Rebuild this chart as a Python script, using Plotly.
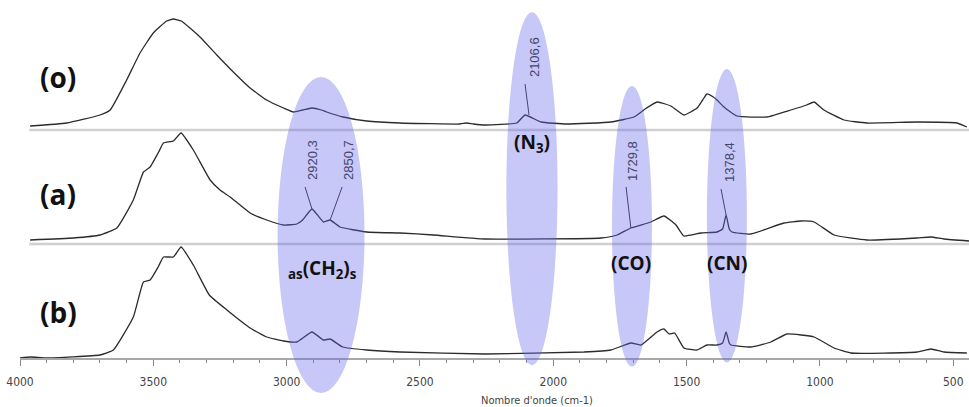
import plotly.graph_objects as go

# ---------------- data (wavenumber in cm-1, absorbance in arbitrary units) ----------------
wn_o = [3962, 3825, 3700, 3662, 3600, 3550, 3500, 3450, 3425, 3395, 3325, 3262, 3200, 3137,
        3075, 3012, 2975, 2940, 2905, 2870, 2850, 2788, 2700, 2575, 2350, 2325, 2300, 2256,
        2137, 2106, 2046, 1950, 1784, 1698, 1650, 1611, 1580, 1559, 1510, 1461, 1440, 1424,
        1400, 1386, 1360, 1311, 1199, 1109, 1050, 1022, 985, 910, 824, 636, 486, 449]
ab_o = [4, 7, 15, 20, 50, 77, 97, 109, 111, 109, 93, 75, 58, 42,
        30, 22, 18, 20, 22, 20, 18, 13, 9, 7, 6, 7, 6, 5,
        7, 15, 8, 6, 8, 13, 22, 28, 26, 24, 15, 22, 30, 36,
        33, 30, 23, 14, 13, 20, 25, 28, 20, 10, 7, 8, 7, 3]

wn_a = [3962, 3800, 3700, 3637, 3575, 3537, 3512, 3480, 3462, 3425, 3396, 3350, 3287, 3250,
        3212, 3137, 3075, 3012, 2962, 2940, 2905, 2862, 2837, 2800, 2700, 2575, 2450, 2256,
        1821, 1761, 1709, 1634, 1585, 1540, 1510, 1446, 1386, 1365, 1352, 1340, 1330, 1259,
        1135, 1071, 1022, 947, 824, 636, 584, 535, 441]
ab_a = [4, 6, 9, 16, 44, 72, 77, 92, 101, 103, 111, 94, 64, 54,
        47, 31, 24, 19, 20, 24, 35, 22, 24, 17, 12, 11, 9, 5,
        6, 9, 16, 22, 28, 19, 8, 11, 12, 15, 29, 15, 12, 10,
        21, 23, 22, 9, 4, 6, 7, 5, 3]

wn_b = [4000, 3960, 3900, 3700, 3650, 3575, 3537, 3512, 3480, 3462, 3425, 3396, 3350, 3290,
        3224, 3137, 3075, 3012, 2962, 2905, 2862, 2837, 2790, 2700, 2575, 2256,
        1885, 1784, 1709, 1671, 1611, 1585, 1566, 1545, 1510, 1461, 1424, 1386, 1365, 1352,
        1340, 1334, 1259, 1184, 1124, 1071, 1022, 947, 884, 636, 584, 535, 449]
ab_b = [0, 1, 0, 3, 8, 41, 76, 78, 92, 101, 101, 111, 93, 63,
        48, 30, 21, 17, 16, 26, 18, 19, 11, 8, 6, 4,
        6, 8, 15, 13, 26, 29, 24, 25, 10, 8, 13, 13, 15, 26,
        15, 13, 11, 16, 24, 23, 21, 10, 5, 6, 9, 6, 5]

sample_labels = ["(o)", "(a)", "(b)"]
x_ticks = [4000, 3500, 3000, 2500, 2000, 1500, 1000, 500]

# peak labels: (label, peak wn, peak value, line-top wn, line-top value, text wn, text value, spectrum)
peak_labels = [
    ("2106,6", 2091, 15, 2106, 46, 2072, 73, "o"),
    ("2920,3", 2905, 35, 2931, 57, 2905, 84, "a"),
    ("2850,7", 2837, 24, 2792, 57, 2770, 84, "a"),
    ("1729,8", 1709, 16, 1727, 57, 1705, 83, "a"),
    ("1378,4", 1352, 29, 1371, 55, 1341, 82, "a"),
]

# highlighted bands (wn from, wn to)
bands = [(3034, 2708), (2176, 1984), (1780, 1630), (1424, 1274)]
band_tops = [0.785, 0.966, 0.760, 0.807]
band_bottoms = [-0.098, -0.020, -0.024, -0.012]
band_names = ["<sub>as</sub>(CH<sub>2</sub>)<sub>s</sub>", "(N<sub>3</sub>)", "(CO)", "(CN)"]
band_name_wn = [2867, 2080, 1707, 1348]
band_name_y = [0.25, 0.60, 0.265, 0.265]

# ---------------- figure ----------------
H_TOP = 358.0
fig = go.Figure()
line = dict(color="#2b2b2b", width=1.3, shape="spline", smoothing=0.4)
fig.add_trace(go.Scatter(x=wn_o, y=ab_o, mode="lines", line=line, xaxis="x", yaxis="y", hoverinfo="skip"))
fig.add_trace(go.Scatter(x=wn_a, y=ab_a, mode="lines", line=line, xaxis="x2", yaxis="y2", hoverinfo="skip"))
fig.add_trace(go.Scatter(x=wn_b, y=ab_b, mode="lines", line=line, xaxis="x3", yaxis="y3", hoverinfo="skip"))

xr = [4000, 441]
d_o = [(H_TOP - 130) / H_TOP, 1]
d_a = [(H_TOP - 244) / H_TOP, (H_TOP - 130) / H_TOP]
d_b = [0, (H_TOP - 244) / H_TOP]

hidden_x = dict(range=xr, showgrid=False, zeroline=False, showticklabels=False, ticks="", showline=False)
hidden_y = dict(showgrid=False, zeroline=False, showticklabels=False, ticks="", showline=False, fixedrange=True)

fig.update_layout(
    width=969, height=407,
    margin=dict(l=20, r=0, t=0, b=49, autoexpand=False),
    paper_bgcolor="white", plot_bgcolor="rgba(0,0,0,0)",
    showlegend=False,
    xaxis=dict(hidden_x, anchor="y", matches="x3"),
    xaxis2=dict(hidden_x, anchor="y2", matches="x3"),
    xaxis3=dict(range=xr, anchor="y3", showgrid=False, zeroline=False, showline=True, automargin=False,
                linecolor="#a8a8a8", linewidth=2, ticks="outside", ticklen=6, tickcolor="#888",
                tickvals=x_ticks, ticktext=[str(v) for v in x_ticks], ticklabelstandoff=6,
                tickfont=dict(family="Liberation Sans Narrow, DejaVu Sans Condensed, Arial", size=12, color="#444"),
                minor=dict(dtick=100, ticks="outside", ticklen=3, tickcolor="#888")),
    yaxis=dict(hidden_y, domain=d_o, range=[0, 130], anchor="x"),
    yaxis2=dict(hidden_y, domain=d_a, range=[0, 114], anchor="x2"),
    yaxis3=dict(hidden_y, domain=d_b, range=[0, 114], anchor="x3"),
)

shapes = []
# separators between spectra
for yb in [d_o[0], d_a[0]]:
    shapes.append(dict(type="line", xref="x3", yref="paper", x0=3965, x1=xr[1], y0=yb, y1=yb,
                       line=dict(color="#d0d0d0", width=2.5), layer="above"))
# leader lines for peak labels
for lab, pw, pv, tw, tv, xw, xv, ax in peak_labels:
    xref, yref = ("x", "y") if ax == "o" else ("x2", "y2")
    shapes.append(dict(type="line", xref=xref, yref=yref, x0=pw, y0=pv, x1=tw, y1=tv,
                       line=dict(color="#333", width=1)))
# highlighted bands
for (b0, b1), top, bot in zip(bands, band_tops, band_bottoms):
    shapes.append(dict(type="circle", xref="x3", yref="paper", x0=b0, x1=b1, y0=bot, y1=top,
                       fillcolor="rgba(100,100,235,0.36)", line=dict(width=0), layer="above"))
fig.update_layout(shapes=shapes)

ann = []
for lab, pw, pv, tw, tv, xw, xv, ax in peak_labels:
    xref, yref = ("x", "y") if ax == "o" else ("x2", "y2")
    ann.append(dict(text=lab, x=xw, y=xv, xref=xref, yref=yref, showarrow=False, textangle=-90,
                    xanchor="center", yanchor="middle",
                    font=dict(family="Liberation Sans, Arial", size=13, color="#45456a")))
for name, xw, yp in zip(band_names, band_name_wn, band_name_y):
    ann.append(dict(text="<b>" + name + "</b>", x=xw, y=yp, xref="x3", yref="paper", showarrow=False,
                    xanchor="center", yanchor="middle",
                    font=dict(family="Open Sans", size=19, color="#111")))
for lab, ypx in zip(sample_labels, [77, 194, 312]):
    ann.append(dict(text="<b>" + lab + "</b>", x=0.019, y=(H_TOP - ypx) / H_TOP, xref="paper", yref="paper",
                    xanchor="left", yanchor="middle", showarrow=False,
                    font=dict(family="Open Sans", size=28, color="#111")))
ann.append(dict(text="Nombre d'onde (cm-1)", x=2060, y=-0.118, xref="x3", yref="paper", showarrow=False,
                xanchor="center", yanchor="middle",
                font=dict(family="Liberation Sans Narrow, DejaVu Sans Condensed, Arial", size=11, color="#444")))
fig.update_layout(annotations=ann)

fig.write_html("out.html", config={"displayModeBar": False},
               post_script="document.body.style.margin='0px';")
